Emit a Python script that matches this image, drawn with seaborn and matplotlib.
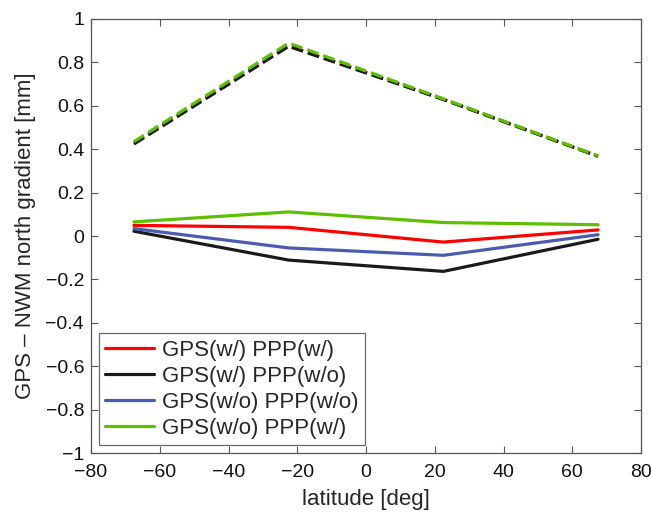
import numpy as np
import pandas as pd
import seaborn as sns
import matplotlib
matplotlib.use("Agg")
import matplotlib.pyplot as plt

lat = [-67.5, -22.5, 22.5, 67.5]
labels = ["GPS(w/) PPP(w/)", "GPS(w/) PPP(w/o)", "GPS(w/o) PPP(w/o)", "GPS(w/o) PPP(w/)"]
colors = ["#ff0000", "#1a1a1a", "#4b5bb0", "#5cbf00"]

# solid curves
red = [0.049, 0.040, -0.028, 0.028]
black = [0.022, -0.111, -0.163, -0.015]
blue = [0.034, -0.055, -0.089, 0.006]
green = [0.065, 0.111, 0.062, 0.052]

# dashed curves (almost on top of each other)
red_d = [0.428, 0.877, 0.630, 0.368]
black_d = [0.424, 0.874, 0.629, 0.367]
green_d = [0.435, 0.889, 0.632, 0.369]

sns.set_style("ticks")
plt.rcParams["font.family"] = ["Liberation Sans", "DejaVu Sans"]

solid = pd.DataFrame({
    "latitude": lat * 4,
    "value": red + black + blue + green,
    "series": np.repeat(labels, 4),
})
dashed = pd.DataFrame({
    "latitude": lat * 3,
    "value": red_d + black_d + green_d,
    "series": np.repeat([labels[0], labels[1], labels[3]], 4),
})

fig = plt.figure(figsize=(6.51, 5.12), dpi=100)
ax = fig.add_axes([0.1398, 0.1152, 0.8449, 0.8477])

pal = dict(zip(labels, colors))
sns.lineplot(data=dashed, x="latitude", y="value", hue="series",
             palette=pal, linestyle="--", linewidth=2.3,
             legend=False, ax=ax)
sns.lineplot(data=solid, x="latitude", y="value", hue="series",
             palette=pal, linewidth=2.3, ax=ax)

ax.set_xlim(-80, 80)
ax.set_ylim(-1, 1)
ax.set_xticks(np.arange(-80, 81, 20))
ax.set_yticks(np.round(np.arange(-1, 1.01, 0.2), 1))
ax.set_yticklabels(["−1", "−0.8", "−0.6", "−0.4", "−0.2", "0", "0.2", "0.4", "0.6", "0.8", "1"])
ax.tick_params(direction="in", top=True, right=True, labelsize=14, length=5,
               color="#555555", labelcolor="#111111")
ax.tick_params(axis="x", pad=8)
ax.tick_params(axis="y", pad=5)
for s in ax.spines.values():
    s.set_color("#555555")
    s.set_linewidth(0.9)
ax.set_xlabel("latitude [deg]", fontsize=16, labelpad=6)
ax.set_ylabel("GPS – NWM north gradient [mm]", fontsize=16, labelpad=7)

leg = ax.legend(loc="lower left", fontsize=16, frameon=True, fancybox=False,
                edgecolor="#444444", borderaxespad=0.35, handlelength=2.2,
                handletextpad=0.35, labelspacing=0.22, borderpad=0.3)
leg.get_frame().set_linewidth(0.9)

fig.savefig("out.png", dpi=100)
